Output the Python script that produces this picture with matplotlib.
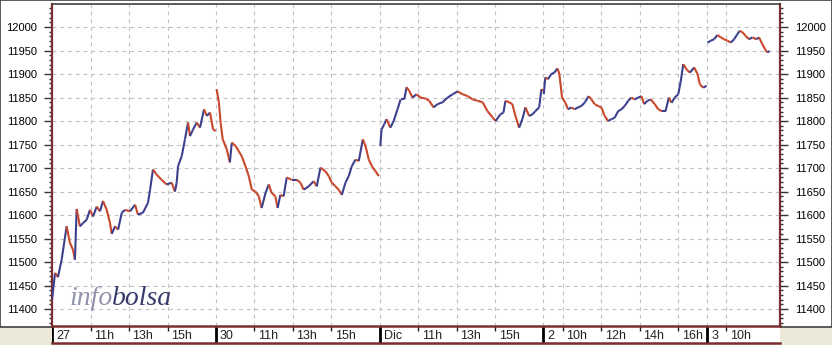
import matplotlib
matplotlib.use("Agg")
import matplotlib.pyplot as plt
from matplotlib.collections import LineCollection
from matplotlib.patches import Rectangle
from matplotlib.ticker import MultipleLocator

W, H, DPI = 832, 345, 100

# ---------------- data ----------------
day_labels = ["27", "30", "Dic", "2", "3"]
hour_ticks = [[11, 13, 15], [11, 13, 15], [11, 13, 15], [10, 12, 14, 16], [10]]
session_open, session_close = 9.0, 17.5

t_27 = [9.00, 9.16, 9.31, 9.50, 9.76, 9.93, 10.09, 10.19, 10.28, 10.45, 10.61, 10.80, 10.97,
        11.13, 11.32, 11.49, 11.65, 11.84, 12.01, 12.10, 12.27, 12.43, 12.62, 12.79, 13.05,
        13.31, 13.46, 13.72, 13.98, 14.09, 14.24, 14.43, 14.69, 14.95, 15.21, 15.38, 15.47,
        15.54, 15.73, 15.90, 16.06, 16.16, 16.32, 16.51, 16.68, 16.89, 17.03, 17.20, 17.36, 17.50]
v_27 = [11420, 11477, 11468, 11505, 11576, 11541, 11526, 11505, 11613, 11576, 11583, 11590, 11611,
        11597, 11618, 11608, 11630, 11611, 11583, 11560, 11576, 11569, 11605, 11611, 11608,
        11622, 11601, 11605, 11626, 11654, 11697, 11686, 11675, 11665, 11669, 11650, 11669,
        11704, 11725, 11761, 11797, 11768, 11782, 11797, 11786, 11825, 11811, 11818, 11782, 11779]

t_30 = [9.04, 9.16, 9.25, 9.36, 9.57, 9.73, 9.83, 10.03, 10.19, 10.35, 10.54, 10.71, 10.87,
        11.06, 11.23, 11.38, 11.58, 11.75, 11.90, 12.09, 12.21, 12.35, 12.52, 12.68, 12.94,
        13.20, 13.39, 13.56, 13.82, 14.08, 14.24, 14.43, 14.69, 14.86, 15.02, 15.21, 15.38,
        15.54, 15.73, 15.90, 16.06, 16.25, 16.42, 16.63, 16.77, 16.94, 17.10, 17.29, 17.46]
v_30 = [11868, 11840, 11797, 11761, 11740, 11712, 11754, 11747, 11736, 11725, 11704, 11683, 11654,
        11650, 11640, 11615, 11647, 11665, 11647, 11640, 11615, 11643, 11640, 11680, 11675,
        11675, 11669, 11654, 11661, 11672, 11661, 11701, 11693, 11683, 11669, 11661, 11654,
        11643, 11669, 11683, 11704, 11718, 11715, 11761, 11747, 11718, 11704, 11693, 11683]

t_dic1 = [9.04, 9.10, 9.24, 9.36, 9.56, 9.73, 9.93, 10.09, 10.28, 10.40, 10.54, 10.71, 10.92,
          11.12, 11.38, 11.58, 11.80, 12.01, 12.27, 12.53, 12.79, 13.05, 13.31, 13.57, 13.83,
          14.09, 14.35, 14.60, 14.86, 15.02, 15.26, 15.43, 15.53, 15.72, 15.89, 16.05, 16.24,
          16.41, 16.57, 16.76, 16.93, 17.08, 17.28, 17.40, 17.48]
v_dic1 = [11747, 11782, 11793, 11804, 11786, 11800, 11825, 11846, 11846, 11872, 11864, 11850, 11857,
          11850, 11848, 11843, 11829, 11836, 11840, 11850, 11857, 11863, 11857, 11853, 11846,
          11843, 11840, 11821, 11808, 11800, 11814, 11818, 11843, 11840, 11836, 11811, 11786,
          11804, 11829, 11811, 11814, 11821, 11829, 11868, 11864]

t_2 = [9.02, 9.10, 9.24, 9.41, 9.57, 9.73, 9.83, 9.97, 10.14, 10.28, 10.45, 10.62, 10.80,
       10.97, 11.14, 11.35, 11.49, 11.66, 11.84, 12.01, 12.18, 12.36, 12.53, 12.70, 12.88,
       13.05, 13.22, 13.40, 13.57, 13.74, 13.92, 14.09, 14.23, 14.40, 14.57, 14.78, 14.96,
       15.16, 15.34, 15.51, 15.65, 15.82, 16.00, 16.13, 16.26, 16.43, 16.60, 16.83, 17.00,
       17.12, 17.30, 17.47]
v_2 = [11857, 11893, 11889, 11900, 11903, 11912, 11900, 11850, 11839, 11825, 11829, 11825, 11829,
       11832, 11839, 11853, 11846, 11836, 11832, 11829, 11811, 11800, 11804, 11807, 11821,
       11825, 11832, 11843, 11850, 11846, 11850, 11853, 11836, 11843, 11846, 11836, 11825,
       11821, 11821, 11850, 11839, 11850, 11857, 11885, 11921, 11910, 11903, 11914, 11900,
       11878, 11871, 11875]

t_3 = [9.02, 9.19, 9.36, 9.53, 9.71, 9.88, 10.05, 10.23, 10.40, 10.57, 10.69, 10.83, 11.00,
       11.17, 11.35, 11.55, 11.69, 11.86, 12.00, 12.12, 12.24]
v_3 = [11967, 11971, 11974, 11983, 11978, 11974, 11971, 11967, 11974, 11985, 11992, 11989, 11981,
       11974, 11978, 11974, 11978, 11964, 11953, 11946, 11949]

days_t = [t_27, t_30, t_dic1, t_2, t_3]
days_v = [v_27, v_30, v_dic1, v_2, v_3]

y_ticks = list(range(11400, 12001, 50))
y_lim = (11364, 12049)
x_end_hours = 37.78

# ---------------- style ----------------
UP = "#3c3f8c"
DOWN = "#c8462a"
MAROON = "#7a2f33"
GRID = "#c2c2c2"
PANEL_BG = "#ece9d8"
FONT = ["Liberation Sans", "DejaVu Sans"]

plt.rcParams["font.family"] = FONT

fig = plt.figure(figsize=(W / DPI, H / DPI), dpi=DPI, facecolor=PANEL_BG)


def fx(px):
    return px / W


def fy(py):  # py measured from top
    return 1 - py / H


# white top panel with dark border
fig.add_artist(Rectangle((0, fy(327)), 1, 1 - fy(327), transform=fig.transFigure,
                         facecolor="white", edgecolor="#404040", lw=1.2, zorder=0))

session_len = session_close - session_open
day_starts = [i * session_len for i in range(len(day_labels))]

ax = fig.add_axes([fx(52), fy(326), fx(728), fy(4) - fy(326)])
ax.set_facecolor("white")
ax.set_xlim(0, x_end_hours)
ax.set_ylim(*y_lim)

# data lines, coloured by direction
for d, (ts, vs) in enumerate(zip(days_t, days_v)):
    xs = [day_starts[d] + (t - session_open) for t in ts]
    segs, cols = [], []
    for i in range(len(xs) - 1):
        segs.append([(xs[i], vs[i]), (xs[i + 1], vs[i + 1])])
        cols.append(UP if vs[i + 1] >= vs[i] else DOWN)
    ax.add_collection(LineCollection(segs, colors=cols, linewidths=1.5, zorder=3,
                                     capstyle="butt"))

# grid
grid_x = []
for d, hs in enumerate(hour_ticks):
    grid_x.append(day_starts[d])
    grid_x += [day_starts[d] + h - session_open for h in hs]
for gx in grid_x:
    ax.axvline(gx, color=GRID, lw=0.8, ls=(0, (3.5, 3.5)), zorder=1)
for gy in y_ticks:
    ax.axhline(gy, color=GRID, lw=0.8, ls=(0, (3.5, 3.5)), zorder=1)

ax.set_xticks([])
ax.set_yticks(y_ticks)
ax.yaxis.set_minor_locator(MultipleLocator(10))
ax.tick_params(axis="y", which="major", left=True, right=True, labelleft=True,
               labelright=True, direction="out", length=6, width=1, color="#333333",
               labelsize=8, pad=5)
ax.tick_params(axis="y", which="minor", left=True, right=True, direction="out",
               length=2, width=1, color="#333333")
for side in ("left", "right"):
    ax.spines[side].set_color(MAROON)
    ax.spines[side].set_linewidth(1.6)
ax.spines["top"].set_color("#404040")
ax.spines["top"].set_linewidth(1.2)
ax.spines["bottom"].set_visible(False)

# time band
band = fig.add_axes([fx(52), fy(343), fx(728), fy(326) - fy(343)])
band.set_facecolor("white")
band.set_xlim(0, x_end_hours)
band.set_ylim(0, 1)
band.set_xticks([])
band.set_yticks([])
for side in ("left", "right"):
    band.spines[side].set_visible(False)
for side in ("top", "bottom"):
    band.spines[side].set_color(MAROON)
    band.spines[side].set_linewidth(1.8)

for d, lab in enumerate(day_labels):
    x0 = day_starts[d]
    band.plot([x0, x0], [0, 1], color="black", lw=2, solid_capstyle="butt")
    band.annotate(lab, (x0, 0.42), xytext=(3, 0), textcoords="offset points",
                  ha="left", va="center", fontsize=9, color="#222222")
    for h in hour_ticks[d]:
        xh = x0 + h - session_open
        band.plot([xh, xh], [1, 0.7], color="#222222", lw=1, solid_capstyle="butt")
        band.annotate(f"{h}h", (xh, 0.42), xytext=(2.5, 0), textcoords="offset points",
                      ha="left", va="center", fontsize=9, color="#222222")

# watermark
wm_font = ["Liberation Serif", "DejaVu Serif"]
t1 = fig.text(fx(69), fy(305), "info", family=wm_font, style="italic", fontsize=20,
              color="#9293ad", ha="left", va="baseline", zorder=5)
fig.canvas.draw()
bb = t1.get_window_extent(renderer=fig.canvas.get_renderer())
fig.text(bb.x1 / W, fy(305), "bolsa", family=wm_font, style="italic", fontsize=20,
         color="#363b6b", ha="left", va="baseline", zorder=5)

fig.savefig("out.png", dpi=DPI, facecolor=PANEL_BG)
